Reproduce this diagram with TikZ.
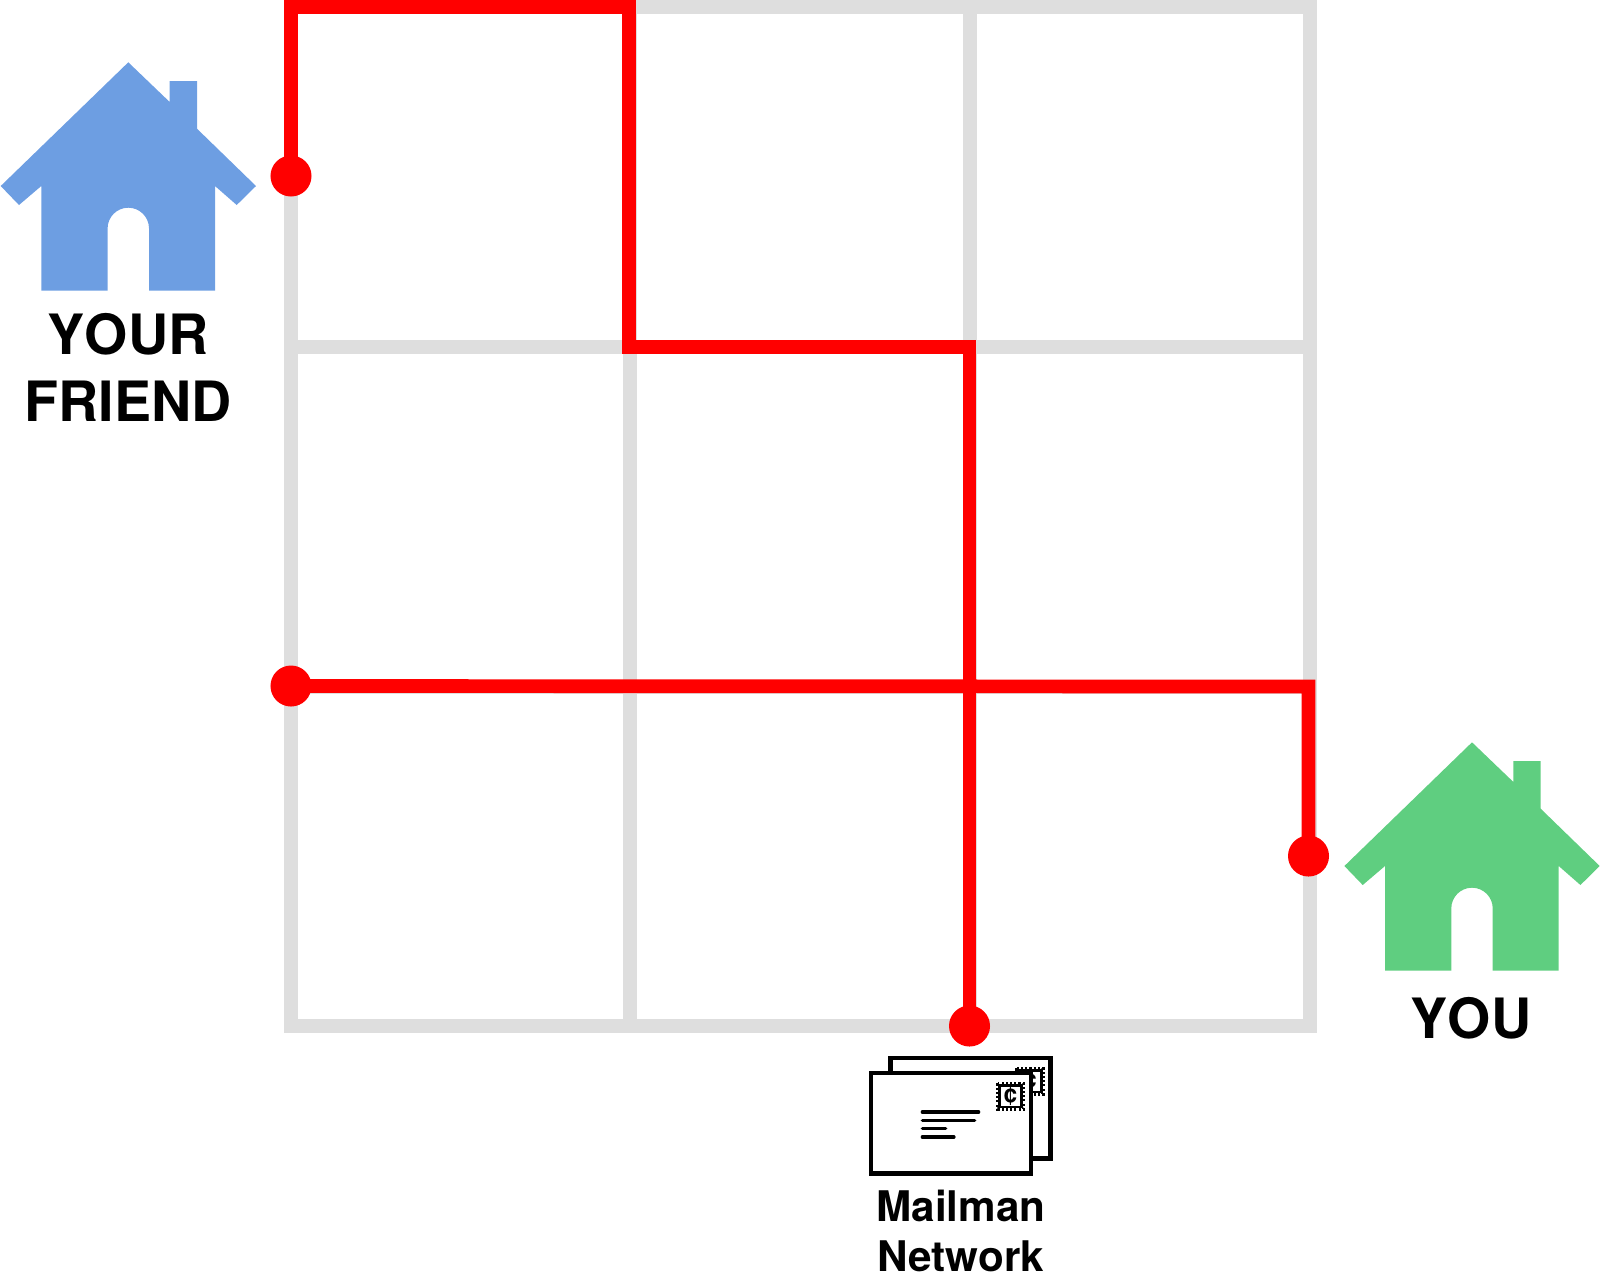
\documentclass[tikz,border=0pt]{standalone}
\usepackage{fontspec}
\setmainfont[Kerning=Off]{TeX Gyre Heros}
\definecolor{friendblue}{HTML}{6D9EE2}
\definecolor{yougreen}{HTML}{5FCE80}
\definecolor{gridgray}{HTML}{DEDEDE}
\tikzset{gridline/.style = {draw = gridgray, line width = 1.4mm}}
\tikzset{wire/.style = {draw = red, line width = 1.37mm}}
\tikzset{dot/.style = {fill = red, circle, inner sep = 0, minimum size = 4.1mm}}
\tikzset{biglabel/.style = {align = center, inner sep = 0, font = \fontsize{15.8}{18.8}\selectfont\bfseries}}
\tikzset{smalllabel/.style = {align = center, inner sep = 0, font = \fontsize{12}{14}\selectfont\bfseries}}
\tikzset{house/.pic = {
      \fill [pic actions] (0, 0) -- (41.4, 39.7) -- (41.4, 18.7) -- (68.7, 18.7) -- (68.7, 66.4)
          -- (127.7, 123.7) -- (108.4, 142.7) -- (86.7, 123.7) -- (86.7, 228.4) -- (20.7, 228.4)
          -- (20.7, 166.1) arc [start angle = 0, end angle = -180, radius = 20.7]
          -- (-20.7, 228.4) -- (-87, 228.4) -- (-87, 123.7) -- (-109.3, 142.7) -- (-127.6, 123.7) -- cycle;
}}
\tikzset{envelope/.pic = {
      \draw [line width = 1.25pt, fill = white] (0, 0) rectangle (160, 100.5);
      \draw [line width = 1pt, dash pattern = on 0.6pt off 0.6pt] (126.7, 10.4) rectangle (152.6, 36);
      \draw [line width = 0.75pt, fill = white] (128.6, 12.3) rectangle (150.7, 34.1);
      \node [font = \fontsize{7}{7}\selectfont\bfseries, inner sep = 0] (cent) at (139.5, 23.4) {¢};
      \draw [line width = 0.9pt, line cap = round] (51.3, 39) -- (107.7, 39);
      \draw [line width = 0.9pt, line cap = round] (51.3, 47.3) -- (103.7, 47.3);
      \draw [line width = 0.9pt, line cap = round] (51.3, 55.7) -- (74.7, 55.7);
      \draw [line width = 0.9pt, line cap = round] (51.3, 64) -- (83, 64);
}}
\begin{document}
\begin{tikzpicture}[x = 0.01cm, y = -0.01cm]
      \useasboundingbox (0, 0) rectangle (1600, 1272);

      % the streets
      \draw [gridline] (291, 7) rectangle (1309.5, 1026);
      \draw [gridline] (630, 7) -- (630, 1026);
      \draw [gridline] (970, 7) -- (970, 1026);
      \draw [gridline] (291, 346.5) -- (1309.5, 346.5);
      \draw [gridline] (291, 686.5) -- (1309.5, 686.5);

      % the houses
      \pic [fill = friendblue] at (128.3, 62.3) {house};
      \pic [fill = yougreen] at (1472, 742.3) {house};
      \node [biglabel, anchor = base] (friendlabel) at (128, 421) {YOUR\\FRIEND};
      \node [biglabel, anchor = base] (youlabel) at (1471, 1038.5) {YOU};

      % the routes
      \node [dot] (friendstop) at (291, 176) {};
      \node [dot] (leftstop) at (291, 686) {};
      \node [dot] (youstop) at (1308.5, 856) {};
      \node [dot] (mailstop) at (969.5, 1026) {};
      \coordinate (turnA) at (291, 7);
      \coordinate (turnB) at (629, 7);
      \coordinate (turnC) at (629, 347);
      \coordinate (turnD) at (969.5, 347);
      \coordinate (turnE) at (1308.5, 686.5);
      \draw [wire] (friendstop.center) -- (turnA) -- (turnB) -- (turnC) -- (turnD) -- (mailstop.center);
      \draw [wire] (leftstop.center) -- (turnE) -- (youstop.center);

      % the mail
      \pic (back) at (890.5, 1058) {envelope};
      \pic (front) at (871, 1073) {envelope};
      \node [smalllabel, anchor = base] (maillabel) at (961, 1271) {Mailman\\Network};
\end{tikzpicture}
\end{document}
